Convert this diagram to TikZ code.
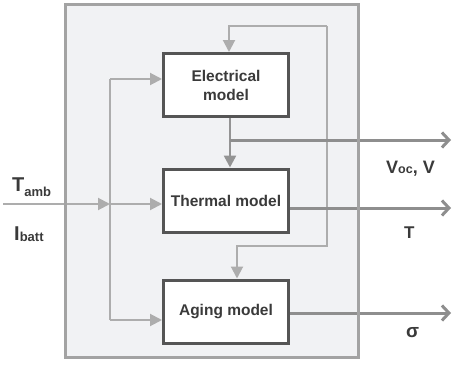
\documentclass[tikz,border=0pt]{standalone}
\usepackage{fontspec}
\setmainfont{Liberation Sans}
\usetikzlibrary{arrows.meta,calc}
\definecolor{outerfill}{HTML}{F1F2F4}
\definecolor{outerline}{HTML}{A3A3A3}
\definecolor{boxline}{HTML}{555555}
\definecolor{txt}{HTML}{3A3A3A}
\definecolor{thinc}{HTML}{ADADAD}
\definecolor{thickc}{HTML}{8E8E8E}
\begin{document}
\begin{tikzpicture}[x=1pt,y=-1pt,
  model/.style={draw=boxline, line width=3pt, fill=white, minimum width=125pt, minimum height=63pt,
    align=center, font=\bfseries\fontsize{15.5}{19}\selectfont, text=txt, inner sep=0pt},
  lbl/.style={font=\bfseries, text=txt, inner sep=0pt},
  thinw/.style={draw=thinc, line width=2pt},
  thinarrow/.style={thinw, -{Triangle[length=12pt,width=12pt]}},
  midarrow/.style={draw=thickc!80!thinc, line width=2.5pt, -{Triangle[length=12pt,width=12pt]}},
  outarrow/.style={draw=thickc, line width=3pt, -{Straight Barb[length=7pt,width=15pt]}}
]
\useasboundingbox (0,0) rectangle (453,367);
\fill[outerfill] (65.5,4.5) rectangle (358.5,357.5);

\node[model] (elec) at (226,85) {Electrical\\model};
\node[model] (therm) at (226,200.5) {Thermal model};
\node[model] (aging) at (226,311.5) {Aging model};

% feedback loop
\coordinate (fa) at (229,26);
\coordinate (fb) at (327,26);
\coordinate (fc) at (327,246);
\coordinate (fd) at (237,246);
\draw[thinarrow] (fb) -- (fa) -- (fa |- elec.north);
\draw[thinarrow] (fb) -- (fc) -- (fd) -- (fd |- aging.north);

% inputs
\coordinate (in) at (3,204);
\coordinate (jin) at (110,204);
\coordinate (jt) at (110,79);
\coordinate (jb) at (110,320);
\draw[thinarrow] (in) -- (jin);
\draw[thinarrow] (jin) -- (therm.west |- jin);
\draw[thinw] (jt) -- (jb);
\draw[thinarrow] (jt) -- (elec.west |- jt);
\draw[thinarrow] (jb) -- (aging.west |- jb);

% electrical -> thermal
\coordinate (et) at (230,0);
\coordinate (j1) at (230,140);
\draw[midarrow] (et |- elec.south) -- (et |- therm.north);

% outputs
\coordinate (o1) at (451,140);
\coordinate (o2) at (451,208);
\coordinate (o3) at (451,313);
\draw[outarrow] (j1) -- (o1);
\draw[outarrow] (therm.east |- o2) -- (o2);
\draw[outarrow] (aging.east |- o3) -- (o3);

\draw[outerline, line width=3pt] (65.5,4.5) rectangle (358.5,357.5);

% labels
\node[lbl, anchor=base west] (tamb) at (12,191) {\fontsize{20}{20}\selectfont T\raisebox{-5pt}{\fontsize{13}{13}\selectfont amb}};
\node[lbl, anchor=base west] (ibatt) at (14,240) {\fontsize{20}{20}\selectfont I\raisebox{-1pt}{\fontsize{13}{13}\selectfont batt}};
\node[lbl, anchor=base west] (voc) at (386,173) {\fontsize{18}{18}\selectfont V\raisebox{-0.5pt}{\fontsize{12.5}{12.5}\selectfont oc}, V};
\node[lbl, anchor=base west] (tout) at (404,238) {\fontsize{17}{17}\selectfont T};
\node[lbl, anchor=base west] (sig) at (406,337) {\fontsize{19}{19}\selectfont σ};
\end{tikzpicture}
\end{document}
